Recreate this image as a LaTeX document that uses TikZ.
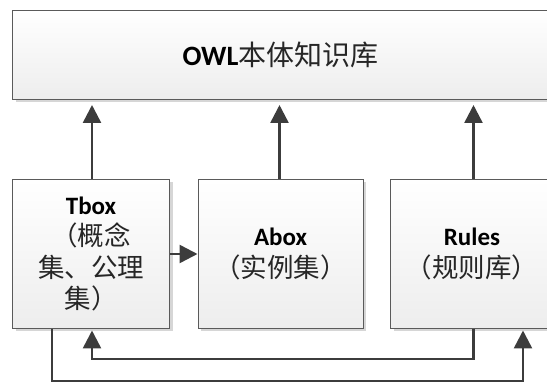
\documentclass[tikz,border=0pt]{standalone}
\usepackage{fontspec}
\setmainfont{Carlito}
\newfontfamily\cjk{Noto Sans CJK SC}
\usetikzlibrary{arrows.meta,shadows}
\definecolor{linec}{HTML}{3C3C3C}
\definecolor{borderc}{HTML}{5A5A5A}
\definecolor{shadowc}{HTML}{D6D6D6}
\definecolor{cjkc}{HTML}{262626}
\tikzset{
  box/.style={draw=borderc, line width=1pt, top color=white, bottom color=black!7,
    drop shadow={shadow xshift=3pt, shadow yshift=-3pt, fill=shadowc, opacity=1},
    anchor=north west, inner sep=0pt, align=center, text=black},
  smallbox/.style={box, minimum height=149pt, font=\fontsize{25}{31.5}\selectfont},
  arr/.style={draw=linec, line width=2.5pt, -{Triangle[width=18pt,length=18pt]}}
}
\newcommand{\zh}[1]{{\cjk\color{cjkc}\fontsize{26.5}{31.5}\selectfont #1}}
\newcommand{\zhtop}[1]{{\cjk\color{cjkc}#1}}
\begin{document}
\begin{tikzpicture}[x=1pt,y=-1pt]
\useasboundingbox (0,0) rectangle (547,382);
\fill[white] (0,0) rectangle (547,382);
\clip (0,0) rectangle (547,382);
\node[box, minimum width=536pt, minimum height=89pt, font=\fontsize{28}{34}\selectfont] (owl) at (12,10)
  {\textbf{OWL}\zhtop{本体知识库}};
\node[smallbox, minimum width=157pt] (tbox) at (12,179)
  {\textbf{Tbox}\\\zh{（概念}\\\zh{集、公理}\\\zh{集）}};
\node[smallbox, minimum width=165pt] (abox) at (197.5,179)
  {\textbf{Abox}\\\zh{（实例集）}};
\node[smallbox, minimum width=163pt] (rules) at (390,179)
  {\textbf{Rules}\\\zh{（规则库）}};
\draw[arr, shorten >=5pt] ([xshift=1pt]tbox.north) -- ([xshift=1pt]tbox.north |- owl.south);
\draw[arr, shorten >=5pt] ([xshift=-1pt]abox.north) -- ([xshift=-1pt]abox.north |- owl.south);
\draw[arr, shorten >=5pt] ([xshift=1.5pt]rules.north) -- ([xshift=1.5pt]rules.north |- owl.south);
\draw[arr] (tbox.east) -- (abox.west);
\draw[arr, shorten >=1.5pt] ([xshift=1.5pt]rules.south) -- ++(0,30) -| ([xshift=1pt]tbox.south);
\draw[arr, shorten >=1.5pt] ([xshift=40pt]tbox.south west) -- ++(0,52.7) -| ([xshift=133pt]rules.south west);
\end{tikzpicture}
\end{document}
